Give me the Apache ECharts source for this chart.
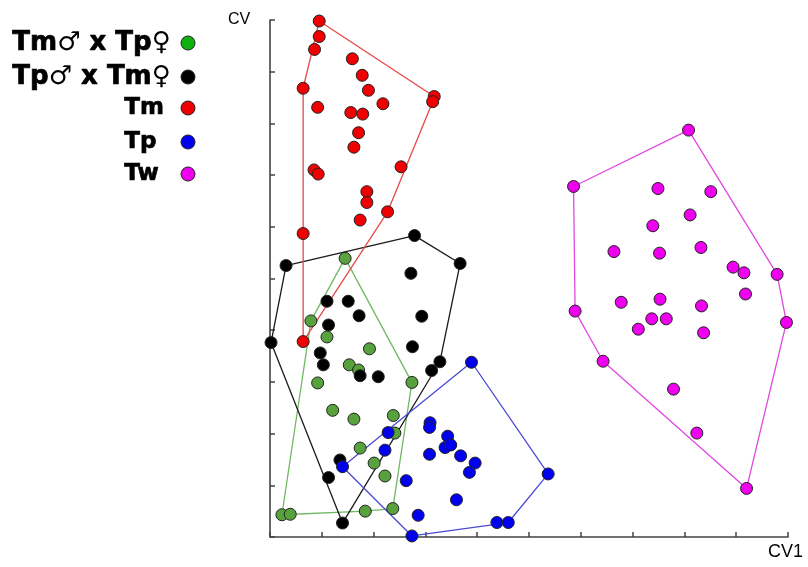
<!DOCTYPE html>
<html>
<head>
<meta charset="utf-8">
<script src="https://cdn.jsdelivr.net/npm/echarts@6/dist/echarts.min.js"></script>
<style>
html,body{margin:0;padding:0;background:#fff;}
#main{width:808px;height:567px;}
</style>
</head>
<body>
<div id="main"></div>
<script>
// ---- data (CV1, CV2) ----
var groupNames = ['Tm\u2642 x Tp\u2640', 'Tp\u2642 x Tm\u2640', 'Tm', 'Tp', 'Tw'];

var tmXtp = [ // green
  [1.45,5.39],[0.79,4.18],[1.10,3.87],[1.92,3.64],[1.53,3.33],[1.71,3.23],[2.74,2.99],
  [0.92,2.98],[1.21,2.45],[1.62,2.28],[2.38,2.35],[2.41,2.01],[1.74,1.72],[2.01,1.43],
  [2.22,1.18],[0.23,0.43],[0.39,0.44],[1.84,0.50],[2.37,0.55]
];
var tpXtm = [ // black
  [2.79,5.83],[0.31,5.25],[3.67,5.29],[2.72,5.10],[1.10,4.56],[1.51,4.56],[1.72,4.28],
  [2.93,4.27],[1.13,4.10],[0.02,3.76],[2.75,3.68],[0.97,3.56],[1.03,3.33],[1.74,3.12],
  [2.09,3.10],[3.28,3.39],[3.12,3.22],[1.35,1.49],[1.13,1.15],[1.40,0.27]
];
var tm = [ // red
  [0.95,9.98],[0.95,9.68],[0.86,9.43],[1.59,9.25],[1.78,8.93],[0.64,8.68],[1.90,8.64],
  [3.17,8.52],[3.14,8.42],[2.18,8.38],[0.92,8.31],[1.56,8.21],[1.79,8.18],[1.71,7.82],
  [1.62,7.54],[0.85,7.10],[0.93,7.02],[2.53,7.16],[1.87,6.68],[1.87,6.47],[2.27,6.29],
  [1.74,6.13],[0.64,5.87],[0.64,3.78]
];
var tp = [ // blue
  [3.89,3.38],[3.09,2.21],[3.08,2.12],[3.43,1.95],[3.38,1.73],[3.49,1.78],[2.28,2.02],
  [2.22,1.68],[3.08,1.60],[3.68,1.57],[3.96,1.43],[3.85,1.25],[1.40,1.36],[2.63,1.09],
  [5.37,1.22],[3.60,0.72],[2.86,0.42],[4.38,0.28],[4.60,0.28],[2.74,0.02]
];
var tw = [ // magenta
  [8.08,7.87],[5.86,6.78],[7.49,6.74],[8.51,6.68],[8.11,6.23],[7.39,6.02],[6.64,5.52],
  [7.52,5.49],[8.32,5.60],[8.94,5.22],[9.15,5.11],[9.79,5.08],[9.18,4.70],[5.89,4.37],
  [6.78,4.54],[7.53,4.60],[8.33,4.47],[7.37,4.22],[7.65,4.22],[7.11,4.02],[8.37,3.95],
  [9.97,4.15],[6.43,3.40],[7.79,2.86],[8.24,2.01],[9.20,0.94]
];

var groupData = [tmXtp, tpXtm, tm, tp, tw];
var pointColors = ['#58a23e', '#000000', '#ee0000', '#0000ee', '#ee00ee'];
var legendColors = ['#10b010', '#000000', '#ee0000', '#0000ee', '#ee00ee'];
var hullColors = ['#72b865', '#1a1a1a', '#e84848', '#4a4ad8', '#e048e0'];

// convex hull (monotone chain)
function hull(pts) {
  var p = pts.slice().sort(function(a,b){return a[0]-b[0] || a[1]-b[1];});
  function cross(o,a,b){return (a[0]-o[0])*(b[1]-o[1])-(a[1]-o[1])*(b[0]-o[0]);}
  var lower=[], upper=[];
  p.forEach(function(pt){
    while(lower.length>=2 && cross(lower[lower.length-2],lower[lower.length-1],pt)<=0) lower.pop();
    lower.push(pt);
  });
  for (var i=p.length-1;i>=0;i--){
    var pt=p[i];
    while(upper.length>=2 && cross(upper[upper.length-2],upper[upper.length-1],pt)<=0) upper.pop();
    upper.push(pt);
  }
  upper.pop(); lower.pop();
  var h = lower.concat(upper);
  h.push(h[0]);
  return h;
}

var series = [];
groupData.forEach(function(d, i){
  series.push({
    name: groupNames[i] + ' hull', type: 'line', data: hull(d), symbol: 'none',
    silent: true, z: 1, clip: false,
    lineStyle: {color: hullColors[i], width: 1.3}
  });
});
groupData.forEach(function(d, i){
  series.push({
    name: groupNames[i], type: 'scatter', data: d, symbol: 'circle', symbolSize: 12,
    z: 3, clip: false,
    itemStyle: {color: pointColors[i], borderColor: '#222', borderWidth: 1, opacity: 1}
  });
});

// legend drawn as graphic
var legendRowsY = [43, 77, 108, 142, 174];
var legendTextX = [12, 12, 124, 124, 124];
var legendFont = [26, 26, 23, 23, 23];
var graphics = [];
groupNames.forEach(function(n, i){
  var fs = legendFont[i];
  var txt = n.replace(/([^\u2642\u2640]+)/g, '{b|$1}').replace(/([\u2642\u2640])/g, '{s|$1}');
  graphics.push({
    type: 'text', left: legendTextX[i], top: legendRowsY[i] - fs * 0.5,
    style: {
      text: txt,
      rich: {
        b: {fontFamily: 'DejaVu Sans', fontWeight: 'bold', fontSize: fs, fill: '#000', stroke: '#000', lineWidth: 0.7},
        s: {fontFamily: 'DejaVu Sans', fontWeight: 'normal', fontSize: fs, fill: '#000'}
      }
    }
  });
  graphics.push({
    type: 'circle', shape: {cx: 188, cy: legendRowsY[i], r: 7},
    style: {fill: legendColors[i], stroke: '#222', lineWidth: 1}
  });
});
graphics.push({type: 'text', left: 228, top: 12, style: {text: 'CV', font: '16px "Liberation Sans", Arial, sans-serif', fill: '#000'}});
graphics.push({type: 'text', left: 768, top: 543, style: {text: 'CV1', font: '18px "Liberation Sans", Arial, sans-serif', fill: '#000'}});

var axisCommon = {
  type: 'value', min: 0, max: 10, interval: 1,
  axisLine: {show: true, lineStyle: {color: '#444', width: 1.6}},
  axisTick: {show: true, inside: true, length: 5, lineStyle: {color: '#444', width: 1.5}},
  axisLabel: {show: false},
  splitLine: {show: false}
};

var chart = echarts.init(document.getElementById('main'));
chart.setOption({
  animation: false,
  backgroundColor: '#fff',
  grid: {left: 270, right: 20, top: 20, bottom: 30},
  xAxis: axisCommon,
  yAxis: Object.assign({}, axisCommon),
  series: series,
  graphic: graphics
});
</script>
</body>
</html>
